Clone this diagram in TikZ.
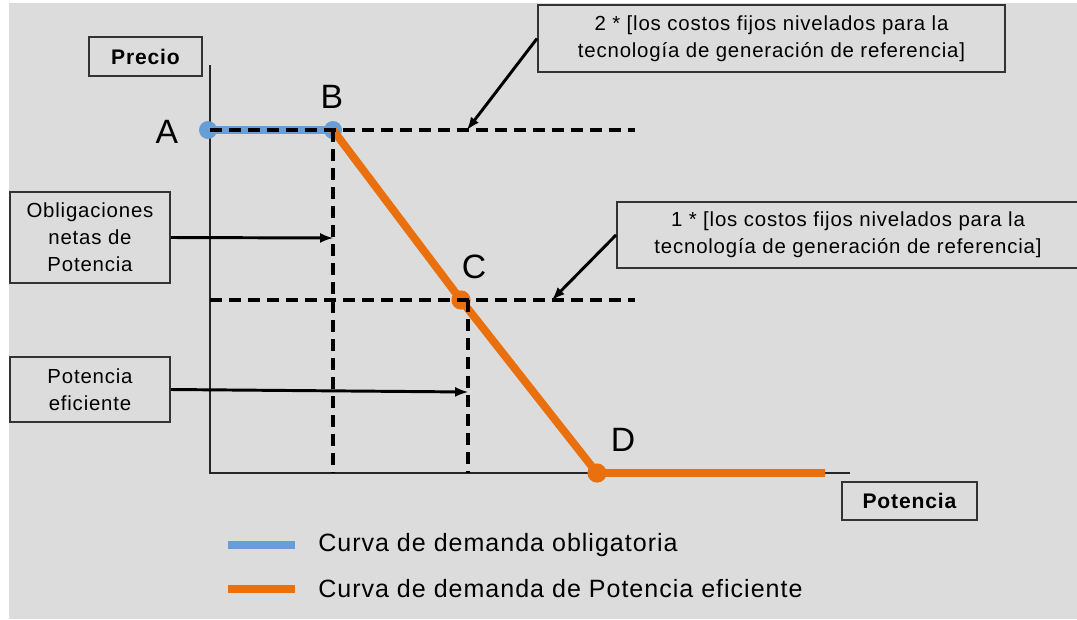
\documentclass[tikz,border=0pt]{standalone}
\usepackage{fontspec}
\setmainfont{Liberation Sans}[LetterSpace=4]
\usepackage{xcolor}
\usepackage{tikz}
\usetikzlibrary{shapes,arrows,positioning,calc}
\definecolor{bgray}{RGB}{220,220,220}
\definecolor{cblue}{RGB}{104,158,212}
\definecolor{corange}{RGB}{233,112,12}
\newcommand{\boxfont}{\fontsize{14.5}{19.2}\selectfont}

\begin{document}
\begin{tikzpicture}[x=0.025cm, y=-0.025cm,
        box/.style={rectangle, draw=black!80, line width=1.3pt, align=center, inner sep=0pt, font=\boxfont},
        axis/.style={line width=1.3pt, black!85},
        guide/.style={line width=2.5pt, dash pattern=on 8.5pt off 5pt},
        arrow/.style={-latex, line width=2.1pt},
        bcurve/.style={line width=6pt, cblue},
        ocurve/.style={line width=5.6pt, corange},
        bdot/.style={circle, fill=cblue, minimum size=0.45cm, inner sep=0pt},
        odot/.style={circle, fill=corange, minimum size=0.48cm, inner sep=0pt},
        ptlabel/.style={font=\fontsize{24}{24}\selectfont, inner sep=0pt},
        legend/.style={anchor=west, font=\fontsize{17.8}{20}\selectfont, inner sep=0pt}
    ]
        \useasboundingbox (0,0) rectangle (1077,619);
        \fill[bgray] (9,3) rectangle (1077,619);

        % axes
        \coordinate (o) at (210,473);
        \coordinate (ytop) at (210,65);
        \coordinate (xend) at (850,473);
        \draw[axis] (ytop) -- (o) -- (xend);

        % points
        \node[bdot] (a) at (208,130) {};
        \node[bdot] (b) at (333,130) {};
        \node[odot] (c) at (461,300) {};
        \node[odot] (d) at (597,473) {};
        \coordinate (dend) at (825,473);

        \draw[bcurve] (a.center) -- (b.center);
        \draw[ocurve, line join=round] (b.center) -- (c.center) -- (d.center) -- (dend);

        \node[ptlabel] (la) at (167,132) {A};
        \node[ptlabel] (lb) at (332,97) {B};
        \node[ptlabel] (lc) at (474,267) {C};
        \node[ptlabel] (ld) at (623,440) {D};

        % guides
        \coordinate (g2l) at (210,130);
        \coordinate (g2r) at (635,130);
        \coordinate (g1l) at (210,300);
        \coordinate (g1r) at (635,300);
        \coordinate (bx) at (333,473);
        \coordinate (ct) at (468,300);
        \coordinate (cx) at (468,473);
        \draw[guide] (g2l) -- (g2r);
        \draw[guide] (g1l) -- (g1r);
        \draw[guide] (b.center) -- (bx);
        \draw[guide] (ct) -- (cx);

        % boxes
        \node[box, minimum width=2.825cm, minimum height=0.975cm, font=\bfseries\fontsize{15}{18}\selectfont] (precio) at (145.5,56.5) {Precio};
        \node[box, minimum width=3.375cm, minimum height=0.95cm, font=\bfseries\fontsize{15}{18}\selectfont] (potencia) at (909.5,501) {Potencia};
        \node[box, minimum width=4cm, minimum height=2.275cm] (oblig) at (90,237.5) {Obligaciones\\netas de\\Potencia};
        \node[box, minimum width=4cm, minimum height=1.625cm] (efic) at (90,389.5) {Potencia\\eficiente};
        \node[box, minimum width=11.675cm, minimum height=1.675cm] (dos) at (771.5,38.5) {2 * [los costos fijos nivelados para la\\tecnología de generación de referencia]};
        \node[box, minimum width=11.55cm, minimum height=1.65cm] (uno) at (848,235) {1 * [los costos fijos nivelados para la\\tecnología de generación de referencia]};

        % arrows
        \coordinate (t2) at (467,130);
        \coordinate (t1) at (552,300);
        \coordinate (tb) at (333,238);
        \coordinate (tc) at (468,392);
        \draw[arrow] (dos.west) -- (t2);
        \draw[arrow] (uno.west) -- (t1);
        \draw[arrow] (oblig.east) -- (tb);
        \draw[arrow] (efic.east) -- (tc);

        % legend
        \coordinate (lb1) at (228,545);
        \coordinate (lb2) at (295,545);
        \coordinate (lo1) at (228,589);
        \coordinate (lo2) at (295,589);
        \draw[bcurve] (lb1) -- (lb2);
        \draw[ocurve] (lo1) -- (lo2);
        \node[legend] (leg1) at (318,545) {Curva de demanda obligatoria};
        \node[legend] (leg2) at (318,589) {Curva de demanda de Potencia eficiente};
    \end{tikzpicture}
\end{document}
